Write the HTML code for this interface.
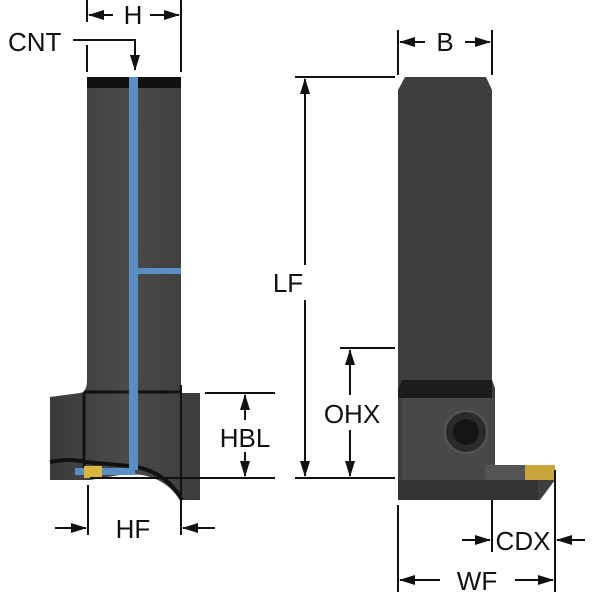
<!DOCTYPE html><html><head><style>body{margin:0;background:#fff}svg{display:block}text{font-family:"Liberation Sans",sans-serif;font-size:26px;fill:#111}</style></head><body>
<svg width="600" height="600" viewBox="0 0 600 600" xmlns="http://www.w3.org/2000/svg">
<defs><marker id="a" markerWidth="16" markerHeight="10" refX="15" refY="5" orient="auto" markerUnits="userSpaceOnUse"><path d="M0,0 L16,5 L0,10Z" fill="#111"/></marker>
<linearGradient id="g" x1="0" x2="1"><stop offset="0" stop-color="#3a3a3a"/><stop offset="0.5" stop-color="#4a4a4a"/><stop offset="1" stop-color="#3c3c3c"/></linearGradient></defs>
<path d="M87,77 H181 V393 H200 V500 H180 Q160,470 120,475 L90,480 H50 V397 L80,393 Q87,392 87,380Z" fill="url(#g)"/>
<rect x="87" y="77" width="94" height="11" fill="#111"/>
<path d="M84,392 H181" stroke="#111" stroke-width="3"/>
<path d="M84,393 V475" stroke="#111" stroke-width="3"/>
<path d="M50,462 Q70,458 85,462 L130,466 Q165,470 182,500" stroke="#111" stroke-width="4" fill="none"/>
<rect x="129" y="77" width="9" height="393" fill="#5a8fc6"/>
<rect x="138" y="268" width="43" height="6" fill="#5a8fc6"/>
<rect x="75" y="468" width="60" height="7" fill="#5a8fc6"/>
<rect x="84" y="466" width="18" height="12" fill="#d9b640"/>
<path d="M405,77 H486 L492,90 V380 L495,388 V480 H510 L555,480 L540,500 H398 V90Z" fill="#3e3e3e"/>
<path d="M398,390 L402,380 H492 V398 H398Z" fill="#1c1c1c"/>
<rect x="402" y="398" width="92" height="82" fill="#484848"/>
<circle cx="466" cy="432" r="21" fill="#2a2a2a" stroke="#555" stroke-width="2"/>
<circle cx="466" cy="432" r="13" fill="#151515"/>
<rect x="485" y="465" width="40" height="15" fill="#555"/>
<rect x="525" y="465" width="30" height="15" fill="#c9a43a"/>
<rect x="398" y="480" width="140" height="20" fill="#333"/>
<g stroke="#111" stroke-width="2" fill="none">
<path d="M87,0 V22 M87,45 V72 M181,0 V72"/>
<path d="M113,15 H89" marker-end="url(#a)"/><path d="M150,15 H179" marker-end="url(#a)"/>
<path d="M73,40 H135 V70" marker-end="url(#a)"/>
<path d="M398,30 V75 M492,30 V75"/>
<path d="M425,42 H400" marker-end="url(#a)"/><path d="M465,42 H490" marker-end="url(#a)"/>
<path d="M295,77 H395 M295,478 H395"/>
<path d="M305,265 V79" marker-end="url(#a)"/><path d="M305,300 V476" marker-end="url(#a)"/>
<path d="M340,348 H395"/>
<path d="M350,395 V350" marker-end="url(#a)"/><path d="M350,430 V476" marker-end="url(#a)"/>
<path d="M205,393 H275 M90,478 H275"/>
<path d="M245,420 V395" marker-end="url(#a)"/><path d="M245,452 V476" marker-end="url(#a)"/>
<path d="M88,485 V535 M181,385 V535"/>
<path d="M55,528 H86" marker-end="url(#a)"/><path d="M215,528 H183" marker-end="url(#a)"/>
<path d="M492,500 V552 M555,470 V592 M398,505 V592"/>
<path d="M462,540 H490" marker-end="url(#a)"/><path d="M585,540 H557" marker-end="url(#a)"/>
<path d="M440,580 H400" marker-end="url(#a)"/><path d="M515,580 H553" marker-end="url(#a)"/>
</g>
<text x="133" y="24" text-anchor="middle">H</text>
<text x="8" y="51">CNT</text>
<text x="445" y="51" text-anchor="middle">B</text>
<text x="288" y="292" text-anchor="middle">LF</text>
<text x="352" y="423" text-anchor="middle">OHX</text>
<text x="245" y="447" text-anchor="middle">HBL</text>
<text x="133" y="538" text-anchor="middle">HF</text>
<text x="523" y="550" text-anchor="middle">CDX</text>
<text x="477" y="590" text-anchor="middle">WF</text>
</svg></body></html>
